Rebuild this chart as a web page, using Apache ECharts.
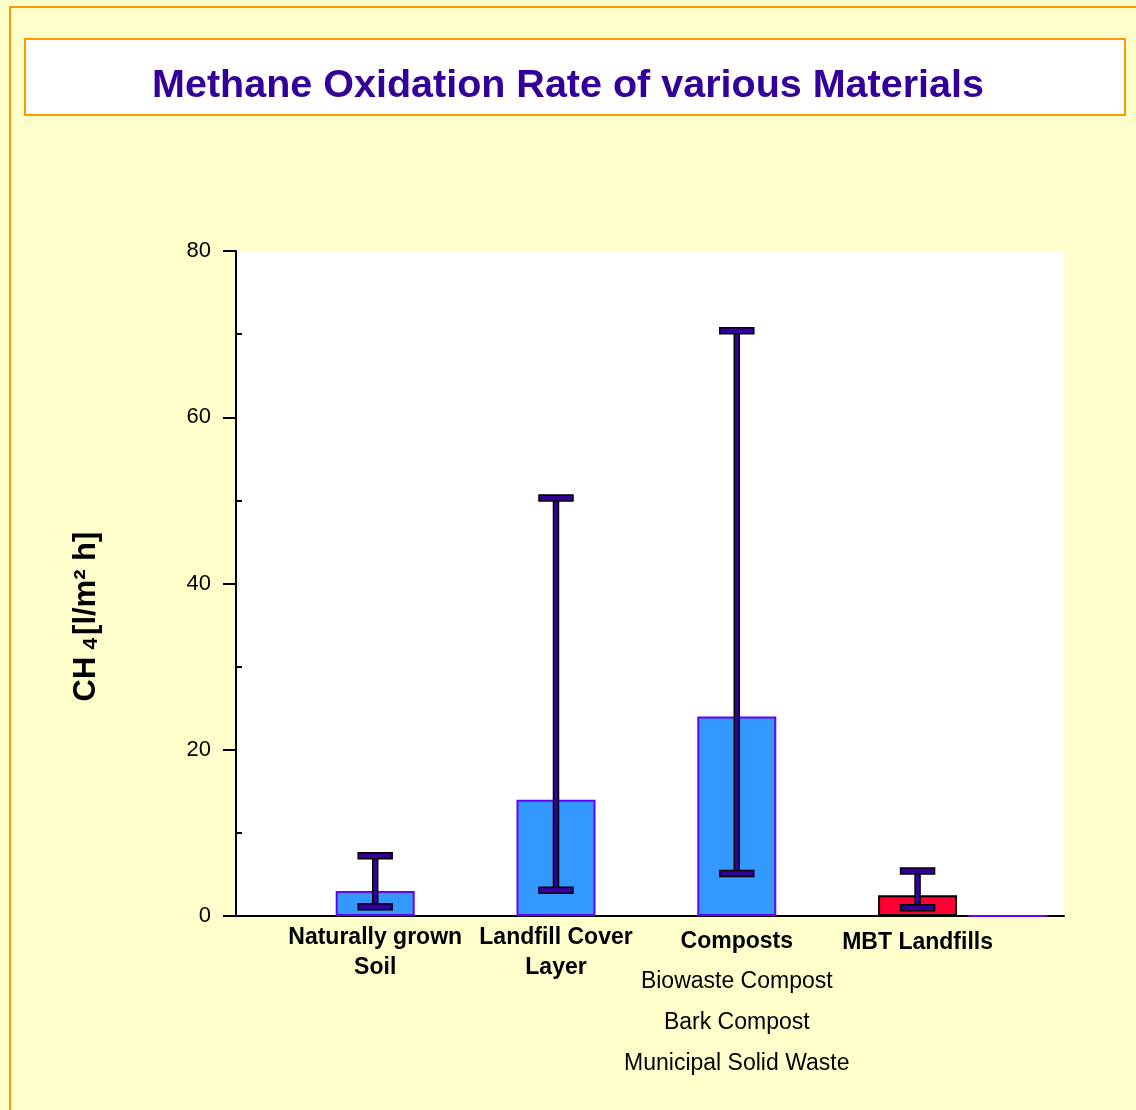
<!DOCTYPE html>
<html>
<head>
<meta charset="utf-8">
<title>Methane Oxidation Rate of various Materials</title>
<script src="https://cdn.jsdelivr.net/npm/echarts@6/dist/echarts.min.js"></script>
<style>
  html, body { margin: 0; padding: 0; background: #ffffcc; }
  #main { width: 1136px; height: 1110px; }
</style>
</head>
<body>
<div id="main"></div>
<script>
// x slots, the empty ones are spacers between the groups
const categories = ['', 'Naturally grown\nSoil', '', 'Landfill Cover\nLayer', '', 'Composts', '', 'MBT Landfills', '']
const compostTypes = ['Biowaste Compost', 'Bark Compost', 'Municipal Solid Waste']
// CH4 oxidation rate [l/m2 h]
const rates = [null, 3.0, null, 14.0, null, 24.0, null, 2.5, 0]
const rateMin = [null, 1.1, null, 3.1, null, 5.1, null, 1.0, null]
const rateMax = [null, 7.25, null, 50.3, null, 70.4, null, 5.4, null]
const yTicks = [0, 20, 40, 60, 80]
const yMinorTicks = [10, 30, 50, 70]

const FONT = '"Liberation Sans", Arial, sans-serif'
const redCategory = 'MBT Landfills'

const myChart = echarts.init(document.getElementById('main'))

const labelSlots = categories.map((c, i) => (c ? [i] : null)).filter((d) => d !== null)

const barData = []
rates.forEach((v, i) => {
  if (v === null) return
  const red = categories[i] === redCategory
  barData.push({
    value: [i, v],
    itemStyle: {
      color: red ? '#ff0033' : '#3399ff',
      borderColor: red ? '#000000' : '#6600ff',
      borderWidth: 2,
    },
  })
})

const errData = []
rateMin.forEach((v, i) => {
  if (v === null) return
  errData.push([i, v, rateMax[i]])
})

// category label text, rich formatted
function labelText(name) {
  if (name === 'Composts') {
    return '{c|' + name + '}\n' + compostTypes.map((t) => '{s|' + t + '}').join('\n')
  }
  if (name.indexOf('\n') >= 0) {
    return name.split('\n').map((t) => '{b|' + t + '}').join('\n')
  }
  return '{m|' + name + '}'
}

const option = {
  backgroundColor: '#ffffcc',
  animation: false,
  graphic: [
    {
      type: 'rect',
      z: -10,
      shape: { x: 10, y: 7, width: 1140, height: 1120 },
      style: { fill: 'none', stroke: '#ff9900', lineWidth: 2 },
    },
    {
      type: 'rect',
      z: -10,
      shape: { x: 25, y: 39, width: 1100, height: 76 },
      style: { fill: '#ffffff', stroke: '#ff9900', lineWidth: 2 },
    },
  ],
  title: {
    text: 'Methane Oxidation Rate of various Materials',
    left: 'center',
    top: 61,
    textStyle: {
      fontFamily: FONT,
      fontSize: 39.5,
      fontWeight: 'bold',
      color: '#330099',
    },
  },
  grid: {
    left: 236,
    top: 251,
    width: 828,
    height: 665,
    containLabel: false,
    outerBoundsMode: 'none',
    show: true,
    backgroundColor: '#ffffff',
    borderWidth: 0,
  },
  xAxis: {
    type: 'value',
    min: -0.54,
    max: 8.62,
    splitLine: { show: false },
    axisTick: { show: false },
    axisLabel: { show: false },
    axisLine: { show: true, onZero: false, lineStyle: { color: '#000', width: 2 } },
  },
  yAxis: [
    {
      type: 'value',
      min: yTicks[0],
      max: yTicks[yTicks.length - 1],
      interval: yTicks[1] - yTicks[0],
      splitLine: { show: false },
      axisLine: { show: true, onZero: false, lineStyle: { color: '#000', width: 2 } },
      axisTick: { show: true, length: 13, lineStyle: { color: '#000', width: 2 } },
      axisLabel: { margin: 25, fontFamily: FONT, fontSize: 22, color: '#000' },
      name: '{a|CH}{s|4}{a|[l/m² h]}',
      nameLocation: 'middle',
      nameGap: 134,
      nameRotate: 90,
      nameTextStyle: {
        padding: [0, 66, 0, 0],
        rich: {
          a: { fontFamily: FONT, fontSize: 31, fontWeight: 'bold', color: '#000', lineHeight: 32 },
          s: {
            fontFamily: FONT,
            fontSize: 21,
            fontWeight: 'bold',
            color: '#000',
            lineHeight: 20,
            verticalAlign: 'bottom',
            padding: [0, 3, 0, 7],
          },
        },
      },
    },
    {
      // short inner ticks between the labelled ones
      type: 'value',
      min: yTicks[0],
      max: yTicks[yTicks.length - 1],
      position: 'left',
      splitLine: { show: false },
      axisLine: { show: false, onZero: false },
      axisLabel: { show: false },
      axisTick: {
        show: true,
        inside: true,
        length: 6,
        customValues: yMinorTicks,
        lineStyle: { color: '#000', width: 2 },
      },
    },
  ],
  series: [
    {
      type: 'bar',
      data: barData,
      barWidth: 79,
      z: 2,
    },
    {
      type: 'custom',
      z: 3,
      data: errData,
      renderItem: function (params, api) {
        const x = api.value(0)
        const lo = api.coord([x, api.value(1)])
        const hi = api.coord([x, api.value(2)])
        const capW = 34
        const capH = 6
        const stemW = 5
        const style = { fill: '#330099', stroke: '#000', lineWidth: 1.5 }
        return {
          type: 'group',
          children: [
            { type: 'rect', shape: { x: lo[0] - stemW / 2, y: hi[1], width: stemW, height: lo[1] - hi[1] }, style: style },
            { type: 'rect', shape: { x: lo[0] - capW / 2, y: hi[1] - capH / 2, width: capW, height: capH }, style: style },
            { type: 'rect', shape: { x: lo[0] - capW / 2, y: lo[1] - capH / 2, width: capW, height: capH }, style: style },
          ],
        }
      },
    },
    {
      // category labels under the axis
      type: 'custom',
      z: 4,
      silent: true,
      data: labelSlots,
      renderItem: function (params, api) {
        const i = api.value(0)
        const p = api.coord([i, 0])
        return {
          type: 'text',
          x: p[0],
          y: p[1] + 7,
          style: {
            text: labelText(categories[i]),
            align: 'center',
            verticalAlign: 'top',
            fill: '#000',
            rich: {
              b: { fontFamily: FONT, fontSize: 23, fontWeight: 'bold', fill: '#000', lineHeight: 30, align: 'center' },
              c: { fontFamily: FONT, fontSize: 23, fontWeight: 'bold', fill: '#000', lineHeight: 38, align: 'center' },
              m: { fontFamily: FONT, fontSize: 23, fontWeight: 'bold', fill: '#000', lineHeight: 40, align: 'center' },
              s: { fontFamily: FONT, fontSize: 23, fill: '#000', lineHeight: 41, align: 'center' },
            },
          },
        }
      },
    },
  ],
}

option && myChart.setOption(option)
</script>
</body>
</html>
